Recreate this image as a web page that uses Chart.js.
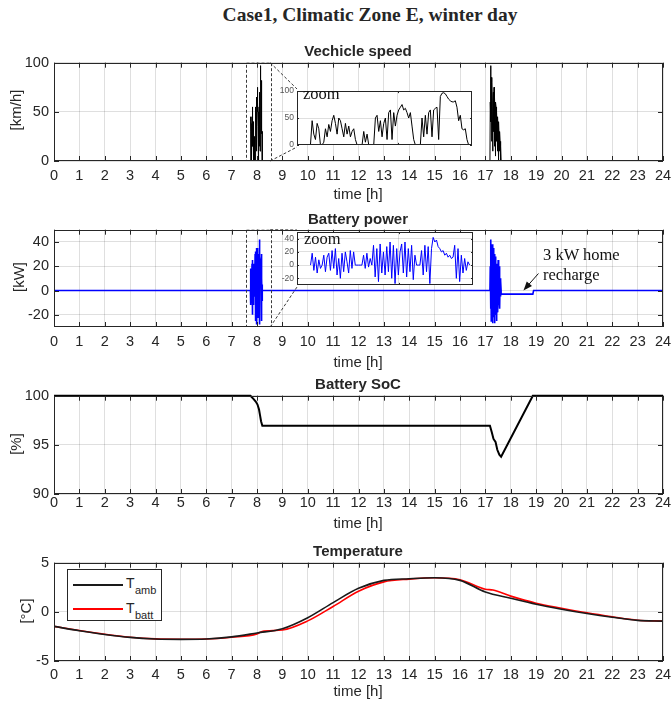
<!DOCTYPE html>
<html lang="en">
<head>
<meta charset="UTF-8"/>
<title>Case1, Climatic Zone E, winter day</title>
<script src="https://cdn.jsdelivr.net/npm/chart.js"></script>
<style>
  body { margin: 0; background: #fff; }
  #fig { position: relative; width: 671px; height: 706px; overflow: hidden; background: #fff;
         font-family: 'Liberation Sans', Arial, sans-serif; color: #262626; }
  #fig canvas { position: absolute; }
  .lbl { position: absolute; transform: translate(-50%, -50%); white-space: nowrap; font-size: 15px; line-height: 1; }
  .ttl { font-weight: bold; }
  .ylab { transform: translate(-50%, -50%) rotate(-90deg); }
  .serif { font-family: 'Liberation Serif', 'Times New Roman', serif; }
  .note { position: absolute; transform: translateY(-50%); white-space: nowrap; font-size: 16.5px; line-height: 1; color: #111; }
  #tempLegend { position: absolute; left: 67px; top: 569px; width: 95px; height: 52px; border: 1px solid #262626; background: #fff; box-sizing: border-box; }
  #tempLegend .key { position: absolute; left: 5px; width: 50px; height: 1.6px; }
  #tempLegend .sym { position: absolute; font-size: 14px; line-height: 1; transform: translateY(-50%); }
  #tempLegend .sub { position: absolute; font-size: 11px; line-height: 1; transform: translateY(-50%); }
</style>
</head>
<body>
<div id="fig">
  <canvas id="speedChart"></canvas>
  <canvas id="powerChart"></canvas>
  <canvas id="socChart"></canvas>
  <canvas id="tempChart"></canvas>
  <canvas id="speedZoom"></canvas>
  <canvas id="powerZoom"></canvas>

  <div class="lbl ttl serif" style="left:370px; top:15px; font-size:19.5px;">Case1, Climatic Zone E, winter day</div>

  <div class="lbl ttl" style="left:358px; top:50px;">Vechicle speed</div>
  <div class="lbl" style="left:358px; top:193px;">time [h]</div>
  <div class="lbl ylab" style="left:15px; top:110px;">[km/h]</div>

  <div class="lbl ttl" style="left:358px; top:218px;">Battery power</div>
  <div class="lbl" style="left:358px; top:361px;">time [h]</div>
  <div class="lbl ylab" style="left:18px; top:277px;">[kW]</div>

  <div class="lbl ttl" style="left:358px; top:383px;">Battery SoC</div>
  <div class="lbl" style="left:358px; top:522px;">time [h]</div>
  <div class="lbl ylab" style="left:15px; top:444px;">[%]</div>

  <div class="lbl ttl" style="left:358px; top:550px;">Temperature</div>
  <div class="lbl" style="left:358px; top:690px;">time [h]</div>
  <div class="lbl ylab" style="left:25px; top:611px;">[°C]</div>

  <div class="note serif" style="left:303px; top:94px;">zoom</div>
  <div class="note serif" style="left:304px; top:239px;">zoom</div>
  <div class="note serif" style="left:543px; top:255px;">3 kW home</div>
  <div class="note serif" style="left:543px; top:275px;">recharge</div>

  <div id="tempLegend">
    <div class="key" style="top:14px; background:#1a1a1a;"></div>
    <div class="key" style="top:38px; background:#ff0000;"></div>
    <span class="sym" style="left:58px; top:13px;">T</span>
    <span class="sub" style="left:67px; top:20px;">amb</span>
    <span class="sym" style="left:58px; top:38px;">T</span>
    <span class="sub" style="left:67px; top:45px;">batt</span>
  </div>
</div>

<script>
  // time axis and tick positions
  const hourTicks = [0,1,2,3,4,5,6,7,8,9,10,11,12,13,14,15,16,17,18,19,20,21,22,23,24];
  const speedTicks = [0, 50, 100];
  const powerTicks = [-20, 0, 20, 40];
  const socTicks = [90, 95, 100];
  const tempTicks = [-5, 0, 5];

  // trips: start / end hour
  const amTrip = [7.74, 8.21];
  const pmTrip = [17.18, 17.62];

  // vehicle speed during the trips [km/h], evenly spaced samples
  const amSpeed = [0,45,20,10,40,30,0,0,5,30, 15,38,25,45,55,40,20,50,45,30,
                   15,40,20,35,15,25,30,10,0,0, 0,0,25,5,20,0,0,0,0,50,
                   55,25,45,15,40,50,10,60,65,10, 60,35,55,65,70,75,65,68,60,50,
                   60,35,10,0,0,0,0,50,15,55, 20,60,65,15,65,68,70,10,90,96,
                   97,95,90,85,82,80,80,82,70,45, 55,30,28,30,10,0];
  const pmSpeed = [0,60,97,40,85,20,80,55,10,60,70,30,75,15,65,45,5,60,
                   55,20,50,35,10,45,30,0,40,25,10,30,20,0,15,0];

  // battery power during the trips [kW]
  const amPower = [0,18,-8,12,-12,8,-5,0,15,-10, 12,18,-8,22,-5,25,-15,10,-20,18,
                   -10,20,5,-12,22,-5,20,0,0,0, 0,0,15,-5,18,-3,10,0,30,-18,
                   25,-25,32,-12,20,-15,28,-10,35,-20, 30,-28,25,-15,20,32,-12,35,-18,25,
                   -10,30,-22,15,0,0,0,22,-15,30, -10,28,-28,25,42,35,38,28,25,20,
                   22,15,18,12,15,10,12,30,-20,25, -25,15,-12,10,-8,5,0];
  const pmPower = [0,20,-15,42,-25,30,-20,38,-27,25,-10,35,-22,30,-27,20,-15,28,
                   -20,15,-25,22,-10,18,-18,25,-12,15,-8,20,-15,10,-5,8,0];

  // home charging
  const chargeWindow = [17.62, 18.87];
  const chargePower = -3;

  // state of charge [%]
  const socHours  = [0, 7.74, 7.85, 7.95, 8.02, 8.08, 8.12, 8.16, 8.21, 17.18, 17.25, 17.32, 17.4, 17.47, 17.55, 17.62, 18.87, 24];
  const socValues = [100, 100, 99.7, 99.4, 99.1, 98.6, 98.0, 97.4, 96.95, 96.95, 96.3, 95.6, 95.3, 94.5, 94.0, 93.8, 100, 100];

  // temperatures [°C]
  const tAmbHours = hourTicks;
  const tAmb = [-1.48,-1.92,-2.3,-2.6,-2.76,-2.8,-2.76,-2.55,-2.15,-1.72,-0.6,0.94,2.39,
                3.2,3.37,3.47,3.2,2.02,1.38,0.77,0.27,-0.17,-0.55,-0.87,-0.94];
  const tBattHours = [0,1,2,3,4,5,6,7,8,8.2,9,10,11,12,13,14,15,16,17,17.3,18,19,20,21,22,23,24];
  const tBatt = [-1.48,-1.9,-2.28,-2.58,-2.75,-2.78,-2.76,-2.58,-2.25,-2.0,-1.85,-0.92,0.55,2.1,
                 3.05,3.33,3.47,3.27,2.3,2.22,1.6,0.88,0.37,-0.1,-0.5,-0.85,-0.94];

  // zoom window shown in the insets
  const zoomWindow = [7.55, 8.52];
  const insetRange = [7.70, 8.22];
  const insetHourTicks = [8];
  const speedInsetTicks = [0, 50, 100];
  const powerInsetTicks = [-20, 0, 20, 40];

  // ---- layout ----
  const plotLeft = 54, plotRight = 663, canvasW = 700;
  const padTop = 12, axisH = 30;
  const inkColor = '#262626';
  const gridColor = 'rgba(38,38,38,0.15)';
  const tickFont = { family: "'Liberation Sans', Arial, sans-serif", size: 14.5 };
  const speedBox = { left: 297, top: 89, width: 175, height: 58 };
  const powerBox = { left: 297, top: 230, width: 176, height: 57 };

  const xy = (xs, ys) => xs.map((x, i) => ({ x, y: ys[i] }));
  function tripPoints(trip, values) {
    const step = (trip[1] - trip[0]) / (values.length - 1);
    return values.map((v, i) => ({ x: trip[0] + i * step, y: v }));
  }

  const speedSeries = [{ x: 0, y: 0 }, ...tripPoints(amTrip, amSpeed), ...tripPoints(pmTrip, pmSpeed), { x: 24, y: 0 }];
  const powerSeries = [{ x: 0, y: 0 }, ...tripPoints(amTrip, amPower), ...tripPoints(pmTrip, pmPower),
    { x: chargeWindow[0], y: chargePower }, { x: chargeWindow[1], y: chargePower },
    { x: chargeWindow[1] + 0.03, y: 0 }, { x: 24, y: 0 }];

  // box, inward ticks, zoom window, arrow
  const matlabBox = {
    id: 'matlabBox',
    beforeDraw(chart, args, opts) {
      if (!opts.fill) return;
      const a = chart.chartArea, ctx = chart.ctx;
      ctx.save();
      ctx.fillStyle = '#fff';
      ctx.fillRect(a.left, a.top, a.width, a.height);
      ctx.restore();
    },
    afterDatasetsDraw(chart, args, opts) {
      const { ctx, chartArea: a, scales: { x, y } } = chart;
      const tl = opts.tickLen || 0;
      ctx.save();
      if (opts.zoom) {
        const z = opts.zoom;
        const x0 = x.getPixelForValue(z.from), x1 = x.getPixelForValue(z.to);
        ctx.strokeStyle = '#3a3a3a';
        ctx.lineWidth = 1;
        ctx.setLineDash([3, 2]);
        ctx.strokeRect(Math.round(x0) + 0.5, a.top + 0.5, Math.round(x1 - x0), a.height - 1);
        ctx.beginPath();
        ctx.moveTo(x1, a.top);
        ctx.lineTo(z.box.left, z.box.top - z.offsetTop);
        ctx.moveTo(x1, a.bottom);
        ctx.lineTo(z.box.left, z.box.top + z.box.height - z.offsetTop);
        ctx.stroke();
        ctx.setLineDash([]);
      }
      if (opts.arrow) {
        const ar = opts.arrow;
        const tx = x.getPixelForValue(ar.x), ty = y.getPixelForValue(ar.y);
        const sx = tx + ar.dx, sy = ty + ar.dy;
        const ang = Math.atan2(ty - sy, tx - sx);
        ctx.strokeStyle = '#111';
        ctx.fillStyle = '#111';
        ctx.lineWidth = 1;
        ctx.beginPath();
        ctx.moveTo(sx, sy);
        ctx.lineTo(tx - 6 * Math.cos(ang), ty - 6 * Math.sin(ang));
        ctx.stroke();
        ctx.beginPath();
        ctx.moveTo(tx, ty);
        ctx.lineTo(tx - 9 * Math.cos(ang) + 3.5 * Math.sin(ang), ty - 9 * Math.sin(ang) - 3.5 * Math.cos(ang));
        ctx.lineTo(tx - 9 * Math.cos(ang) - 3.5 * Math.sin(ang), ty - 9 * Math.sin(ang) + 3.5 * Math.cos(ang));
        ctx.closePath();
        ctx.fill();
      }
      ctx.strokeStyle = inkColor;
      ctx.lineWidth = 1;
      ctx.beginPath();
      if (tl) {
        x.ticks.forEach(t => {
          const px = Math.round(x.getPixelForValue(t.value)) + 0.5;
          ctx.moveTo(px, a.bottom); ctx.lineTo(px, a.bottom - tl);
          ctx.moveTo(px, a.top); ctx.lineTo(px, a.top + tl);
        });
        y.ticks.forEach(t => {
          const py = Math.round(y.getPixelForValue(t.value)) + 0.5;
          ctx.moveTo(a.left, py); ctx.lineTo(a.left + tl, py);
          ctx.moveTo(a.right, py); ctx.lineTo(a.right - tl, py);
        });
      }
      ctx.stroke();
      ctx.strokeRect(Math.round(a.left) + 0.5, Math.round(a.top) + 0.5, Math.round(a.width) - 1, Math.round(a.height) - 1);
      ctx.restore();
    }
  };

  function fixTicks(values) {
    return s => { s.ticks = values.map(v => ({ value: v })); };
  }

  function makePanel(id, top, height, xPad, yTicks, yMin, yMax, datasets, extra) {
    const cv = document.getElementById(id);
    const h = height + padTop + axisH;
    cv.width = canvasW; cv.height = h;
    cv.style.left = '0px'; cv.style.top = (top - padTop) + 'px';
    cv.style.width = canvasW + 'px'; cv.style.height = h + 'px';
    return new Chart(cv, {
      type: 'line',
      data: { datasets },
      options: {
        responsive: false,
        animation: false,
        devicePixelRatio: 1,
        layout: { padding: { left: 0, right: canvasW - plotRight, top: padTop, bottom: 0 } },
        elements: { point: { radius: 0 } },
        plugins: {
          legend: { display: false },
          tooltip: { enabled: false },
          matlabBox: Object.assign({ tickLen: 5, offsetTop: top - padTop }, extra || {})
        },
        scales: {
          x: {
            type: 'linear', min: 0, max: 24,
            afterBuildTicks: fixTicks(hourTicks),
            afterFit: s => { s.height = axisH; },
            ticks: { autoSkip: false, maxRotation: 0, padding: xPad, color: inkColor, font: tickFont },
            grid: { color: gridColor, drawTicks: false },
            border: { display: false }
          },
          y: {
            type: 'linear', min: yMin, max: yMax,
            afterBuildTicks: fixTicks(yTicks),
            afterFit: s => { s.width = plotLeft; },
            ticks: { padding: 5, color: inkColor, font: tickFont },
            grid: { color: gridColor, drawTicks: false },
            border: { display: false }
          }
        }
      },
      plugins: [matlabBox]
    });
  }

  function makeInset(id, box, yTicks, yMin, yMax, data, color) {
    const cv = document.getElementById(id);
    const yw = 24, pad = 6;
    const w = box.width + yw + 4, h = box.height + 2 * pad;
    cv.width = w; cv.height = h;
    cv.style.left = (box.left - yw) + 'px'; cv.style.top = (box.top - pad) + 'px';
    cv.style.width = w + 'px'; cv.style.height = h + 'px';
    return new Chart(cv, {
      type: 'line',
      data: { datasets: [{ data, borderColor: color, borderWidth: 1, tension: 0 }] },
      options: {
        responsive: false,
        animation: false,
        devicePixelRatio: 1,
        layout: { padding: { left: 0, right: 4, top: pad, bottom: pad } },
        elements: { point: { radius: 0 } },
        plugins: { legend: { display: false }, tooltip: { enabled: false }, matlabBox: { fill: true, tickLen: 2 } },
        scales: {
          x: {
            type: 'linear', min: insetRange[0], max: insetRange[1],
            afterBuildTicks: fixTicks(insetHourTicks),
            afterFit: s => { s.height = 0; },
            ticks: { display: false },
            grid: { color: gridColor, drawTicks: false },
            border: { display: false }
          },
          y: {
            type: 'linear', min: yMin, max: yMax,
            afterBuildTicks: fixTicks(yTicks),
            afterFit: s => { s.width = yw; },
            ticks: { padding: 3, color: '#555', font: { family: tickFont.family, size: 8.5 } },
            grid: { color: gridColor, drawTicks: false },
            border: { display: false }
          }
        }
      },
      plugins: [matlabBox]
    });
  }

  makePanel('speedChart', 61, 100, 6, speedTicks, 0, 100,
    [{ data: speedSeries, borderColor: '#000', borderWidth: 1, tension: 0 }],
    { zoom: { from: zoomWindow[0], to: zoomWindow[1], box: speedBox, offsetTop: 61 - padTop } });

  makePanel('powerChart', 228, 99, 6, powerTicks, -30, 50,
    [{ data: powerSeries, borderColor: '#0000ff', borderWidth: 1.6, tension: 0 }],
    { zoom: { from: zoomWindow[0], to: zoomWindow[1], box: powerBox, offsetTop: 228 - padTop },
      arrow: { x: 18.5, y: 0, dx: 15, dy: -17 } });

  // SoC sits on the upper limit for most of the day, so let the line overrun the box
  makePanel('socChart', 394, 100, 0, socTicks, 90, 100,
    [{ data: xy(socHours, socValues), borderColor: '#000', borderWidth: 2, tension: 0, clip: 3 }]);

  makePanel('tempChart', 561, 100, 5, tempTicks, -5, 5, [
    { data: xy(tAmbHours, tAmb), borderColor: '#1a1a1a', borderWidth: 1.6, cubicInterpolationMode: 'monotone' },
    { data: xy(tBattHours, tBatt), borderColor: '#ff0000', borderWidth: 1.6, cubicInterpolationMode: 'monotone' }
  ]);

  makeInset('speedZoom', speedBox, speedInsetTicks, 0, 100, tripPoints(amTrip, amSpeed), '#000');
  makeInset('powerZoom', powerBox, powerInsetTicks, -30, 50, tripPoints(amTrip, amPower), '#0000ff');
</script>
</body>
</html>
